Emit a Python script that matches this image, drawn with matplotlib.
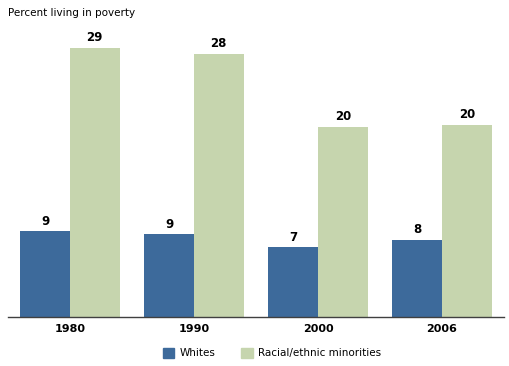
import numpy as np
import matplotlib.pyplot as plt
from matplotlib.patches import Patch

# Données (pourcentage vivant sous le seuil de pauvreté)
years = ["1980", "1990", "2000", "2006"]
whites = [9.1, 8.8, 7.4, 8.2]
minorities = [28.6, 28.0, 20.2, 20.4]
whites_labels = ["9", "9", "7", "8"]
minorities_labels = ["29", "28", "20", "20"]

BLUE = "#3d6a9b"
GREEN = "#c6d5ae"

fig = plt.figure(figsize=(5.09, 3.66), dpi=100)
ax = fig.add_axes([8 / 509, 1 - 316.7 / 366, 496 / 509, 282 / 366])

x = np.arange(len(years))
w = 0.4
b1 = ax.bar(x - w / 2, whites, w, color=BLUE, edgecolor="none")
b2 = ax.bar(x + w / 2, minorities, w, color=GREEN, edgecolor="none")

for bars, labels in [(b1, whites_labels), (b2, minorities_labels)]:
    for bar, lab in zip(bars, labels):
        ax.annotate(lab, (bar.get_x() + bar.get_width() / 2, bar.get_height()),
                    xytext=(0, 2.5), textcoords="offset points",
                    ha="center", va="bottom", fontsize=8.5, fontweight="bold")

ax.set_xlim(-0.5, 3.5)
ax.set_ylim(0, 30)
ax.set_yticks([])
ax.set_xticks(x)
ax.set_xticklabels(years, fontsize=8, fontweight="bold")
ax.tick_params(axis="x", length=0, pad=5)
for s in ["top", "right", "left"]:
    ax.spines[s].set_visible(False)
ax.spines["bottom"].set_color("#404040")
ax.spines["bottom"].set_linewidth(1.0)

fig.text(8 / 509, 1 - 13 / 366, "Percent living in poverty", fontsize=7.5,
         ha="left", va="center")

handles = [Patch(color=BLUE, label="Whites"),
           Patch(color=GREEN, label="Racial/ethnic minorities")]
fig.legend(handles=handles, loc="center", bbox_to_anchor=(272 / 509, 1 - 353 / 366),
           ncol=2, frameon=False, fontsize=7.5, handlelength=1.1, handleheight=1.1,
           handletextpad=0.5, columnspacing=2.5)

plt.savefig("out.png", dpi=100)
